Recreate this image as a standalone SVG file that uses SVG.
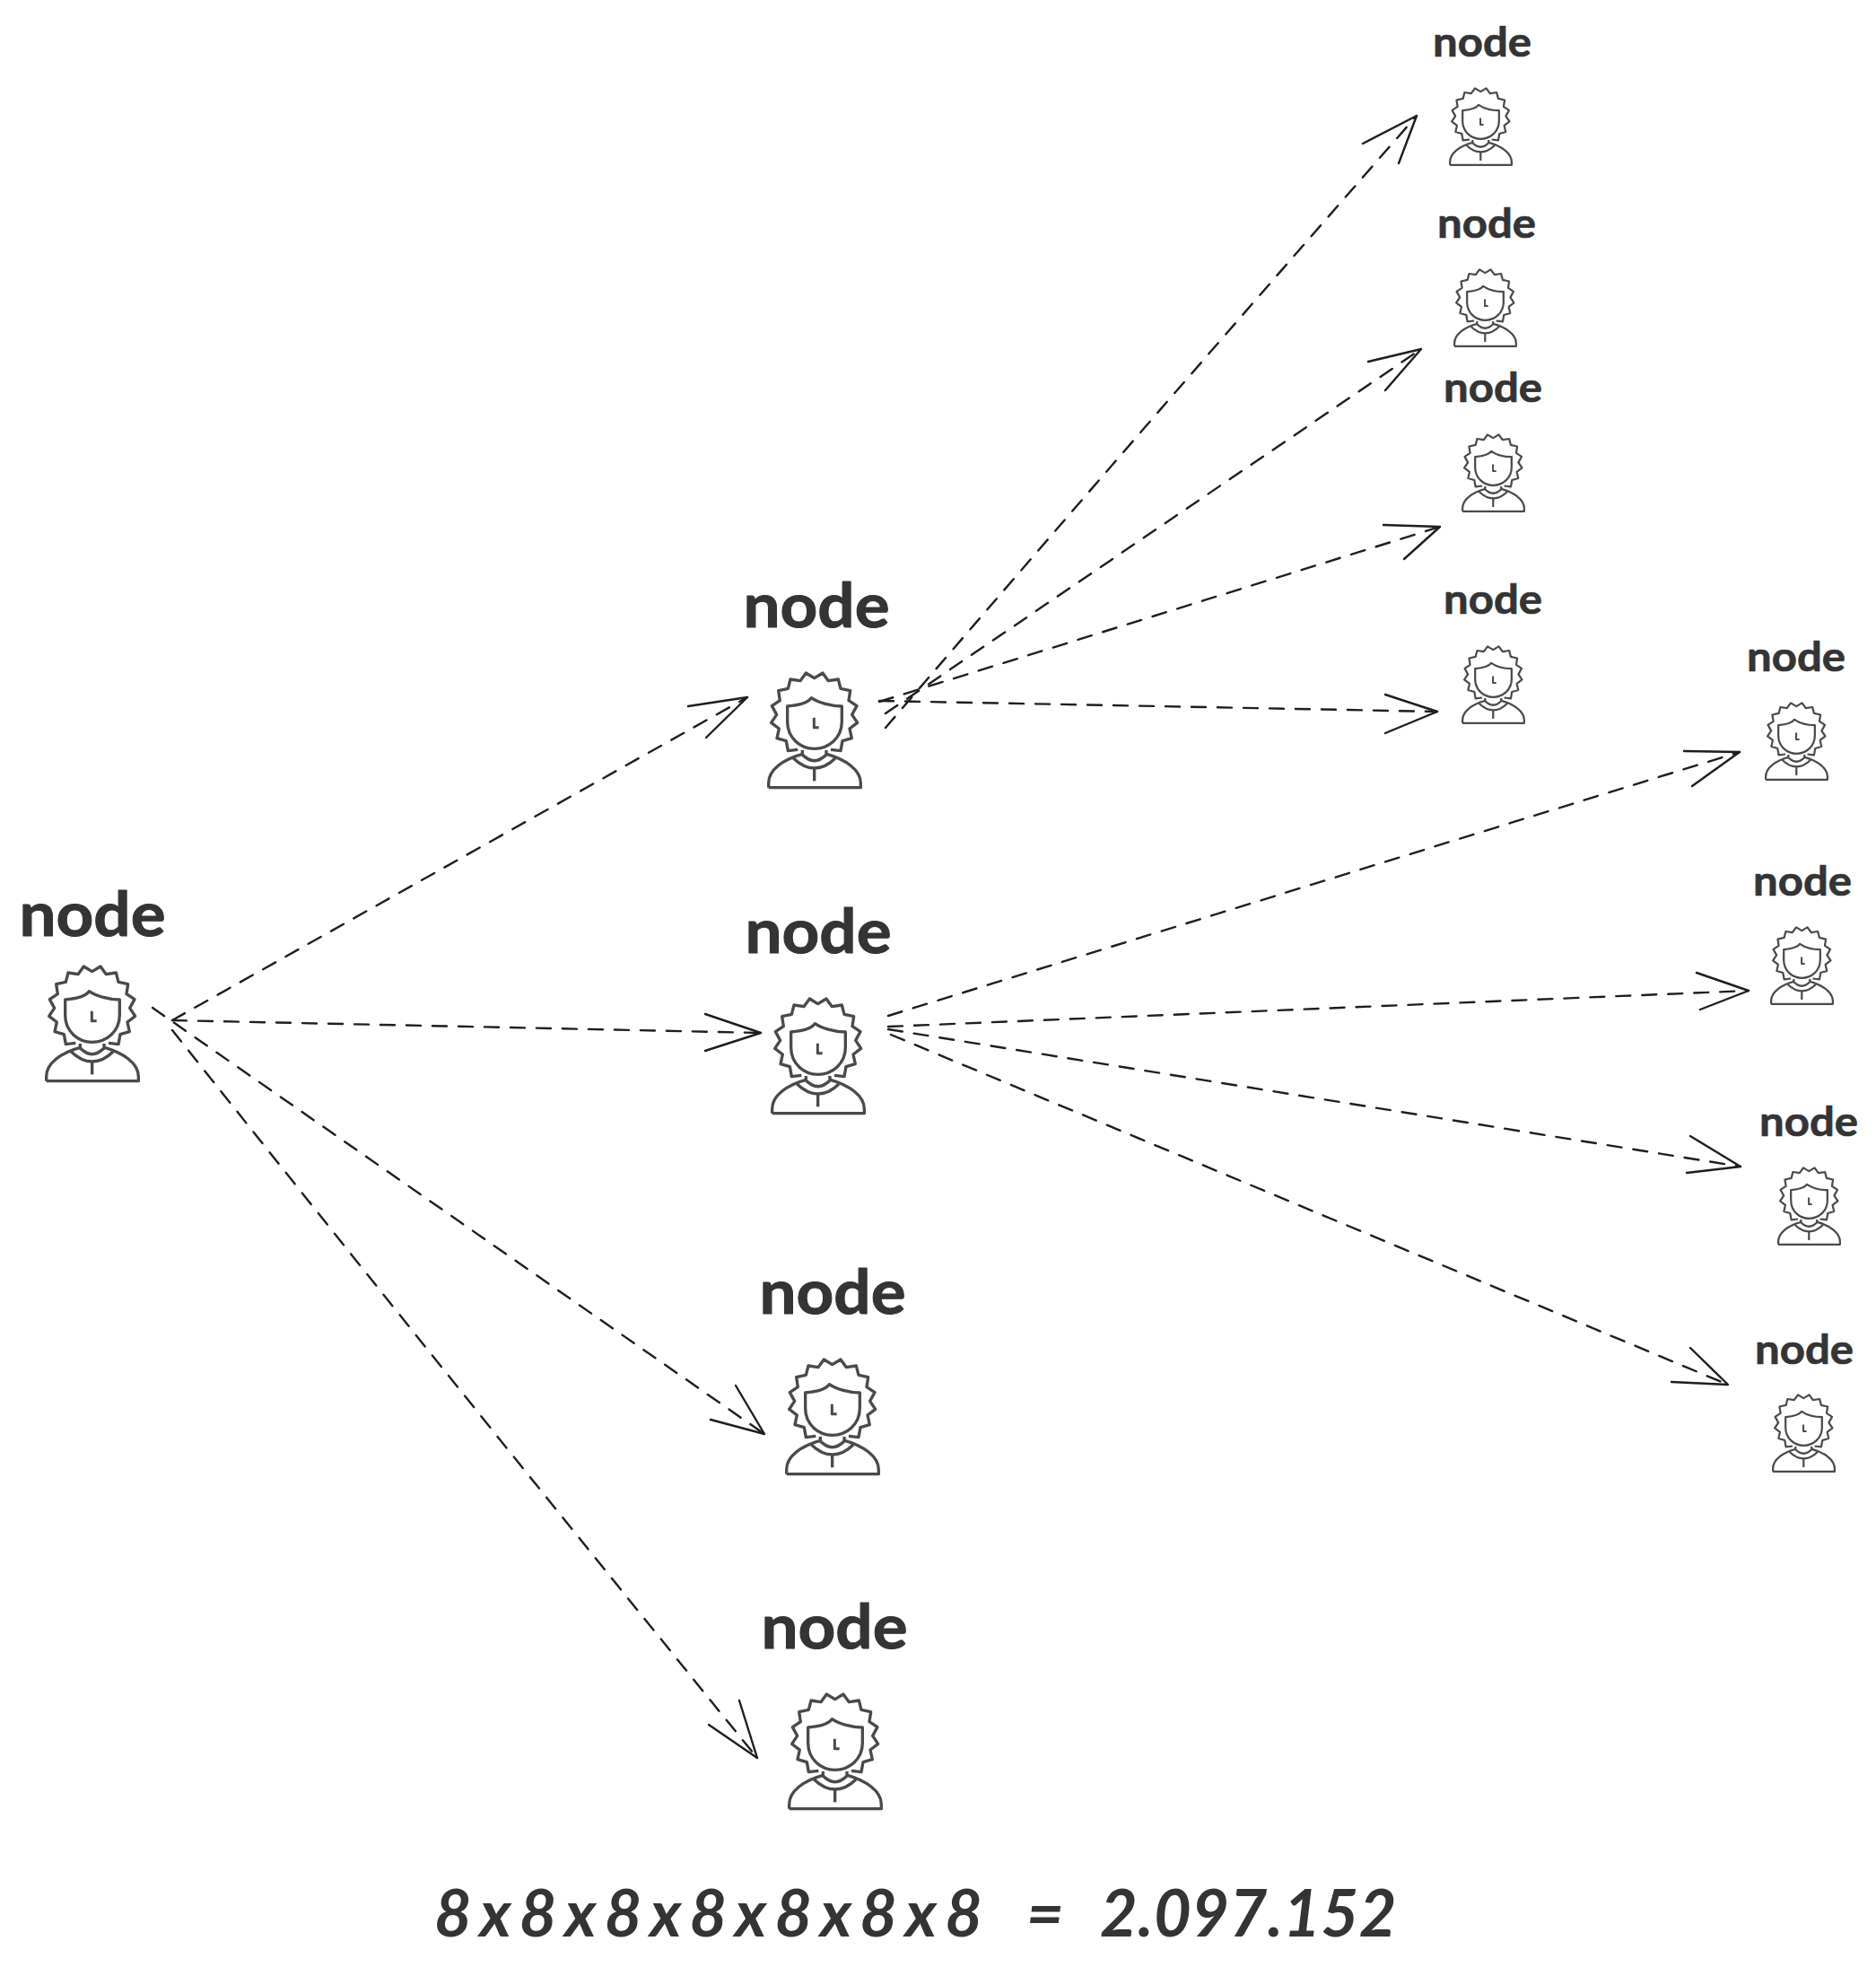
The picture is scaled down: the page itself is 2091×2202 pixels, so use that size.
<svg xmlns="http://www.w3.org/2000/svg" xmlns:xlink="http://www.w3.org/1999/xlink" width="2091" height="2202" viewBox="0 0 2091 2202">
<style>
.bg{fill:#fff}
.lbl{font-family:"Lato","Open Sans",sans-serif;font-weight:700;fill:#343434;text-anchor:middle}
.big{font-size:68px;stroke:#343434;stroke-width:1;stroke-linejoin:round}
.small{font-size:45px;stroke:#343434;stroke-width:.7;stroke-linejoin:round}
.total{font-size:72px;font-style:italic;text-anchor:start}
.line{fill:none;stroke:#1e1e1e;stroke-width:2.4;stroke-linecap:round;stroke-dasharray:16 13}
.head{fill:none;stroke:#1e1e1e;stroke-width:2.4;stroke-linecap:round;stroke-linejoin:round}
.ico{fill:none;stroke:#4a4a4a;stroke-width:10;stroke-linejoin:round}
</style>
<defs>
<g id="person" transform="scale(.3333) translate(-150,-350)">
<path class="ico" d="M253 603L220 607L214 574L183 565L190 533L164 513L182 486L166 457L193 439L188 406L220 399L228 368L261 373L280 347L308 364L336 347L355 373L388 368L396 399L428 406L423 439L450 457L434 486L452 513L426 533L433 565L402 574L396 607L363 603"/>
<path class="ico" d="M218 458C250 455 285 450 298 430C320 445 360 458 400 458L400 510C400 565 355 600 308 600C262 600 218 565 218 510Z"/>
<path class="ico" d="M268 605V620Q308 660 348 620V605"/>
<path class="ico" d="M238 632C262 655 285 665 308 665C332 665 355 655 378 632"/>
<path class="ico" d="M155 730H463V715C463 670 410 635 350 618M155 730V715C155 670 205 635 268 618"/>
<path class="ico" d="M308 665V708"/>
<path class="ico" style="stroke-width:9" d="M307 496V529H323"/>
</g>
</defs>
<rect class="bg" width="2091" height="2202"/>
<g id="connectors">
<path class="line" d="M192 1137L833 777"/><path class="head" d="M767 787L833 777L787 822"/>
<path class="line" d="M192 1137L848 1151"/><path class="head" d="M786 1130L848 1151L786 1171"/>
<path class="line" d="M170 1123L852 1598"/><path class="head" d="M792 1582L852 1598L820 1544"/>
<path class="line" d="M192 1148Q520 1560 844 1959"/><path class="head" d="M790 1922L844 1959L824 1895"/>
<path class="line" d="M987 811Q1280 470 1579 129"/><path class="head" d="M1519 160L1579 129L1559 182"/>
<path class="line" d="M987 795L1584 389"/><path class="head" d="M1525 403L1584 389L1544 435"/>
<path class="line" d="M980 782L1605 587"/><path class="head" d="M1542 585L1605 587L1565 623"/>
<path class="line" d="M980 781L1602 793"/><path class="head" d="M1544 774L1602 793L1544 817"/>
<path class="line" d="M990 1132L1939 838"/><path class="head" d="M1877 837L1939 838L1886 876"/>
<path class="line" d="M990 1144L1949 1104"/><path class="head" d="M1891 1084L1949 1104L1895 1125"/>
<path class="line" d="M990 1147L1940 1300"/><path class="head" d="M1884 1266L1940 1300L1880 1307"/>
<path class="line" d="M993 1153L1926 1543"/><path class="head" d="M1884 1502L1926 1543L1863 1540"/>
</g>
<g id="node-root"><text class="lbl big" x="103" y="1043" textLength="163" lengthAdjust="spacingAndGlyphs">node</text><use xlink:href="#person" href="#person" transform="translate(50,1078)"/></g>
<g id="node-a"><text class="lbl big" x="910" y="699" textLength="163" lengthAdjust="spacingAndGlyphs">node</text><use href="#person" transform="translate(855,751)"/></g>
<g id="node-b"><text class="lbl big" x="912" y="1062" textLength="163" lengthAdjust="spacingAndGlyphs">node</text><use href="#person" transform="translate(859,1114)"/></g>
<g id="node-c"><text class="lbl big" x="928" y="1464" textLength="163" lengthAdjust="spacingAndGlyphs">node</text><use href="#person" transform="translate(875,1516)"/></g>
<g id="node-d"><text class="lbl big" x="930" y="1837" textLength="163" lengthAdjust="spacingAndGlyphs">node</text><use href="#person" transform="translate(878,1889)"/></g>
<g id="node-a1"><text class="lbl small" x="1652" y="63" textLength="110" lengthAdjust="spacingAndGlyphs">node</text><use href="#person" transform="translate(1615,99) scale(.67)"/></g>
<g id="node-a2"><text class="lbl small" x="1657" y="265" textLength="110" lengthAdjust="spacingAndGlyphs">node</text><use href="#person" transform="translate(1620,301) scale(.67)"/></g>
<g id="node-a3"><text class="lbl small" x="1664" y="448" textLength="110" lengthAdjust="spacingAndGlyphs">node</text><use href="#person" transform="translate(1629,485) scale(.67)"/></g>
<g id="node-a4"><text class="lbl small" x="1664" y="684" textLength="110" lengthAdjust="spacingAndGlyphs">node</text><use href="#person" transform="translate(1629,721) scale(.67)"/></g>
<g id="node-b1"><text class="lbl small" x="2002" y="748" textLength="110" lengthAdjust="spacingAndGlyphs">node</text><use href="#person" transform="translate(1967,784) scale(.67)"/></g>
<g id="node-b2"><text class="lbl small" x="2009" y="998" textLength="110" lengthAdjust="spacingAndGlyphs">node</text><use href="#person" transform="translate(1973,1034) scale(.67)"/></g>
<g id="node-b3"><text class="lbl small" x="2016" y="1266" textLength="110" lengthAdjust="spacingAndGlyphs">node</text><use href="#person" transform="translate(1981,1302) scale(.67)"/></g>
<g id="node-b4"><text class="lbl small" x="2011" y="1520" textLength="110" lengthAdjust="spacingAndGlyphs">node</text><use href="#person" transform="translate(1975,1555) scale(.67)"/></g>
<g id="total"><text class="lbl total" y="2158"><tspan x="484" letter-spacing="9">8x8x8x8x8x8x8</tspan> <tspan x="1144">=</tspan> <tspan x="1226" letter-spacing="0.5">2.097.152</tspan></text></g>
</svg>
